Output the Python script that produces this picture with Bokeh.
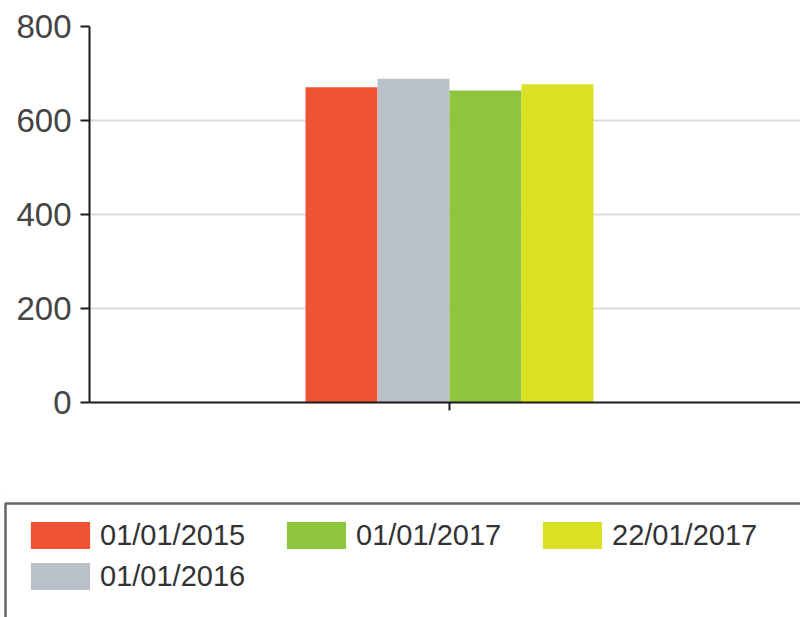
from bokeh.plotting import figure
from bokeh.models import Range1d, FixedTicker, Legend, LegendItem, ColumnDataSource, BoxAnnotation
from bokeh.embed import file_html
from bokeh.resources import INLINE

# ---- data ----
dates = ["01/01/2015", "01/01/2016", "01/01/2017", "22/01/2017"]
values = [671, 689, 664, 677]
colors = ["#F05232", "#B9C0CA", "#8DC53F", "#DAE022"]
y_ticks = [0, 200, 400, 600, 800]

BAR_W = 0.2
n = len(dates)
xpos = [(i - (n - 1) / 2) * BAR_W for i in range(n)]

src = ColumnDataSource(dict(x=xpos, top=values, color=colors, date=dates))

# ---- main chart ----
p = figure(width=800, height=495, output_backend="svg", toolbar_location=None,
           x_range=Range1d(-1, 0.975), y_range=Range1d(0, 800),
           min_border_left=89, min_border_right=0, min_border_top=26,
           min_border_bottom=93)
p.outline_line_color = None

bars = p.vbar(x="x", top="top", bottom=0, width=BAR_W, fill_color="color",
              line_color=None, source=src)

p.xgrid.visible = False
p.ygrid.ticker = FixedTicker(ticks=y_ticks)
p.ygrid.grid_line_color = "#dcdcdc"
p.ygrid.grid_line_width = 2

ya = p.yaxis[0]
ya.ticker = FixedTicker(ticks=y_ticks)
ya.minor_tick_line_color = None
ya.major_tick_in = 0
ya.major_tick_out = 9
ya.major_tick_line_width = 2
ya.major_tick_line_color = "#1a1a1a"
ya.axis_line_width = 2
ya.axis_line_color = "#1a1a1a"
ya.major_label_text_font = "Liberation Sans"
ya.major_label_text_font_size = "33px"
ya.major_label_text_color = "#444444"
ya.major_label_standoff = 9

xa = p.xaxis[0]
xa.ticker = FixedTicker(ticks=[0])
xa.major_label_overrides = {0: ""}
xa.minor_tick_line_color = None
xa.major_tick_in = 0
xa.major_tick_out = 8
xa.major_tick_line_width = 2
xa.major_tick_line_color = "#1a1a1a"
xa.axis_line_width = 2
xa.axis_line_color = "#1a1a1a"

# ---- legend panel (separate root so its frame is not aligned to the chart) ----
LH = 122
q = figure(width=800, height=LH, output_backend="svg", toolbar_location=None,
           x_range=Range1d(10, 11), y_range=Range1d(-20000, -10000),
           x_axis_type=None, y_axis_type=None,
           min_border_left=0, min_border_right=0, min_border_top=0,
           min_border_bottom=0)
q.outline_line_color = None
q.xgrid.visible = False
q.ygrid.visible = False

# same bars, out of this panel's visible range: only used for legend swatches
sw = q.vbar(x="x", top="top", bottom=0, width=BAR_W, fill_color="color",
            line_color=None, source=src)

q.add_layout(BoxAnnotation(left=5, right=1000, top=LH - 8, bottom=-200,
                           left_units="screen", right_units="screen",
                           top_units="screen", bottom_units="screen",
                           fill_alpha=0, line_alpha=1, line_color="#666666",
                           line_width=2.5))

order = [0, 2, 3, 1]
items = [LegendItem(label=dates[i], renderers=[sw], index=i) for i in order]
legend = Legend(items=items, orientation="horizontal", ncols=3,
                location=(13, 14), margin=0, padding=10,
                glyph_width=74, glyph_height=34, label_standoff=3,
                label_width=172, label_height=34, spacing=7,
                label_text_font="Liberation Sans", label_text_font_size="29px",
                label_text_color="#333333",
                border_line_alpha=0, background_fill_alpha=0)
q.add_layout(legend, "center")

open("out.html", "w").write(file_html([p, q], INLINE))
